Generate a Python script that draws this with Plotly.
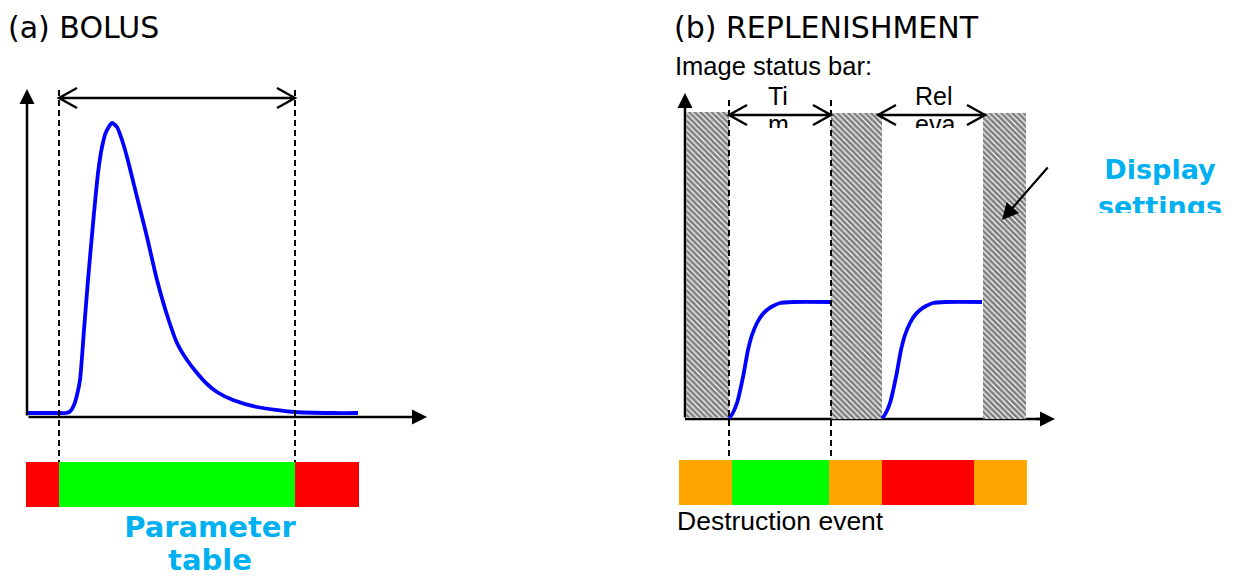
import plotly.graph_objects as go

W, H = 1241, 578
PAGE_MARGIN = 8  # browser body margin: figure starts 8 px in from the window corner

# ---------------- data (pixel units) ----------------
# Panel (a) BOLUS: time-intensity curve
bolus_x = [27, 45, 60, 66, 70, 74, 77, 80, 84, 88, 94, 98, 102, 106, 112, 117,
           122, 127, 137, 147, 157, 168, 177, 187, 197, 207, 217, 233, 257, 295, 333, 358]
bolus_y = [413, 413, 413, 413, 411.5, 405, 395, 380, 330, 280, 213, 173, 147, 132, 123, 127,
           140, 157, 197, 237, 280, 318, 343, 360, 373, 384, 392, 400, 407, 412, 413, 413]

# Panel (b) REPLENISHMENT: two refill curves
rep1_x = [729, 731, 737, 743, 748, 752, 757, 762, 767, 773, 780, 793, 831]
rep2_x = [882, 884, 890, 896, 901, 905, 910, 915, 920, 926, 933, 946, 982]
rep_y = [418, 416, 403, 377, 350, 335, 323, 315, 310, 306, 303, 302, 302]

# Status bars (segment edges and colours)
bolus_bar_edges = [26, 59, 295, 359]
bolus_bar_colors = ["#FF0000", "#00FF00", "#FF0000"]
bolus_bar_span = [462, 507]

rep_bar_edges = [679, 732, 829, 882, 974, 1027]
rep_bar_colors = ["#FFA500", "#00FF00", "#FFA500", "#FF0000", "#FFA500"]
rep_bar_span = [460, 505]

# Hatched (display-settings) blocks
hatch_x0 = [686.5, 831, 983]
hatch_x1 = [729, 882, 1026]
hatch_top = [112, 113, 113]
hatch_bottom = [417.5, 419, 419]

# Dashed guide lines: (x, y_top, y_bottom)
dashed_lines = [(59, 90, 462), (295, 90, 462), (729, 100, 460), (831, 100, 460)]

# Double-headed span arrows: (x_start, x_end, y)
span_arrows = [(59, 295, 98), (729, 831, 115), (878, 985, 115)]

# Axes: (origin_x, origin_y, y_tip, x_tip)
axes_a = (27, 417, 89, 427)
axes_b = (685, 419, 93, 1055)

BLUE = "#0000FF"
CYAN = "#00B0F0"

fig = go.Figure()

# right panel x-axis line (drawn below hatching)
fig.add_trace(go.Scatter(x=[axes_b[0], axes_b[3] - 12], y=[axes_b[1], axes_b[1]],
                         mode="lines", line=dict(color="black", width=2.5), hoverinfo="skip"))

# hatched blocks
for x0, x1, t, b in zip(hatch_x0, hatch_x1, hatch_top, hatch_bottom):
    fig.add_trace(go.Scatter(
        x=[x0, x1, x1, x0, x0], y=[t, t, b, b, t], mode="lines", fill="toself",
        line=dict(width=0), fillcolor="rgba(0,0,0,0)",
        fillpattern=dict(shape="\\", fgcolor="black", bgcolor="white", size=4, solidity=0.7),
        hoverinfo="skip"))

# curves
for xs, ys in [(bolus_x, bolus_y), (rep1_x, rep_y), (rep2_x, rep_y)]:
    fig.add_trace(go.Scatter(x=xs, y=ys, mode="lines",
                             line=dict(color=BLUE, width=3.8, shape="spline", smoothing=0.6),
                             hoverinfo="skip"))

# texts
def add_text(x, y, text, size, color="black", family="Liberation Sans, Arial",
             pos="middle right", weight="normal"):
    fig.add_trace(go.Scatter(x=[x], y=[y], mode="text", text=[text], textposition=pos,
                             textfont=dict(size=size, color=color, family=family, weight=weight),
                             hoverinfo="skip"))

add_text(8, 30, "(a) BOLUS", 30, family="DejaVu Sans")
add_text(674, 30, "(b) REPLENISHMENT", 30, family="DejaVu Sans")
add_text(675, 69, "Image status bar:", 25.5)
add_text(677, 523, "Destruction event", 26.5)
add_text(210, 530, "Parameter", 29, color=CYAN, family="DejaVu Sans", pos="middle center", weight="bold")
add_text(210, 563, "table", 29, color=CYAN, family="DejaVu Sans", pos="middle center", weight="bold")
add_text(1160, 172, "Display", 27, color=CYAN, family="DejaVu Sans", pos="middle center", weight="bold")
add_text(1160, 209, "settings", 27, color=CYAN, family="DejaVu Sans", pos="middle center", weight="bold")
add_text(768, 99, "Ti", 25)
add_text(768, 127, "m", 25)
add_text(915, 99, "Rel", 25)
add_text(915, 127, "eva", 25)

shapes = []
# status bars
for edges, colors, (y0, y1) in [(bolus_bar_edges, bolus_bar_colors, bolus_bar_span),
                                (rep_bar_edges, rep_bar_colors, rep_bar_span)]:
    for i, c in enumerate(colors):
        shapes.append(dict(type="rect", xref="x", yref="y", x0=edges[i], x1=edges[i + 1],
                           y0=y0, y1=y1, fillcolor=c, line=dict(width=0), layer="below"))
# dashed lines
for x, yt, yb in dashed_lines:
    shapes.append(dict(type="line", xref="x", yref="y", x0=x, x1=x, y0=yt, y1=yb,
                       line=dict(color="black", width=2, dash="6px,4px")))
# span arrows with open heads
for xa, xb, y in span_arrows:
    path = (f"M{xa},{y} L{xb},{y} "
            f"M{xa + 18},{y - 10} L{xa},{y} L{xa + 18},{y + 10} "
            f"M{xb - 18},{y - 10} L{xb},{y} L{xb - 18},{y + 10}")
    shapes.append(dict(type="path", xref="x", yref="y", path=path,
                       line=dict(color="black", width=2.4)))
# clipping masks for cut-off labels
for x0, x1, y0, y1 in [(752, 812, 128, 148), (900, 966, 128, 148), (1075, 1241, 213, 238)]:
    shapes.append(dict(type="rect", xref="x", yref="y", x0=x0, x1=x1, y0=y0, y1=y1,
                       fillcolor="white", line=dict(width=0), layer="above"))

annotations = []
def arrow(hx, hy, tx, ty, width=2.5, size=1.2):
    annotations.append(dict(x=hx, y=hy, ax=tx, ay=ty, xref="x", yref="y", axref="x", ayref="y",
                            text="", showarrow=True, arrowhead=2, arrowsize=size,
                            arrowwidth=width, arrowcolor="black", standoff=0))

ox, oy, ytip, xtip = axes_a
arrow(ox, ytip, ox, oy)
arrow(xtip, oy, ox, oy)
ox, oy, ytip, xtip = axes_b
arrow(ox, ytip, ox, oy)
arrow(xtip, oy, xtip - 20, oy)
arrow(1002, 220, 1049, 166, width=2.2, size=1.5)

fig.update_layout(
    width=W - PAGE_MARGIN, height=H - PAGE_MARGIN, margin=dict(l=0, r=0, t=0, b=0),
    paper_bgcolor="white", plot_bgcolor="white", showlegend=False,
    xaxis=dict(range=[PAGE_MARGIN, W], visible=False, fixedrange=True),
    yaxis=dict(range=[H, PAGE_MARGIN], visible=False, fixedrange=True),
    shapes=shapes, annotations=annotations,
)

fig.write_html("out.html")
